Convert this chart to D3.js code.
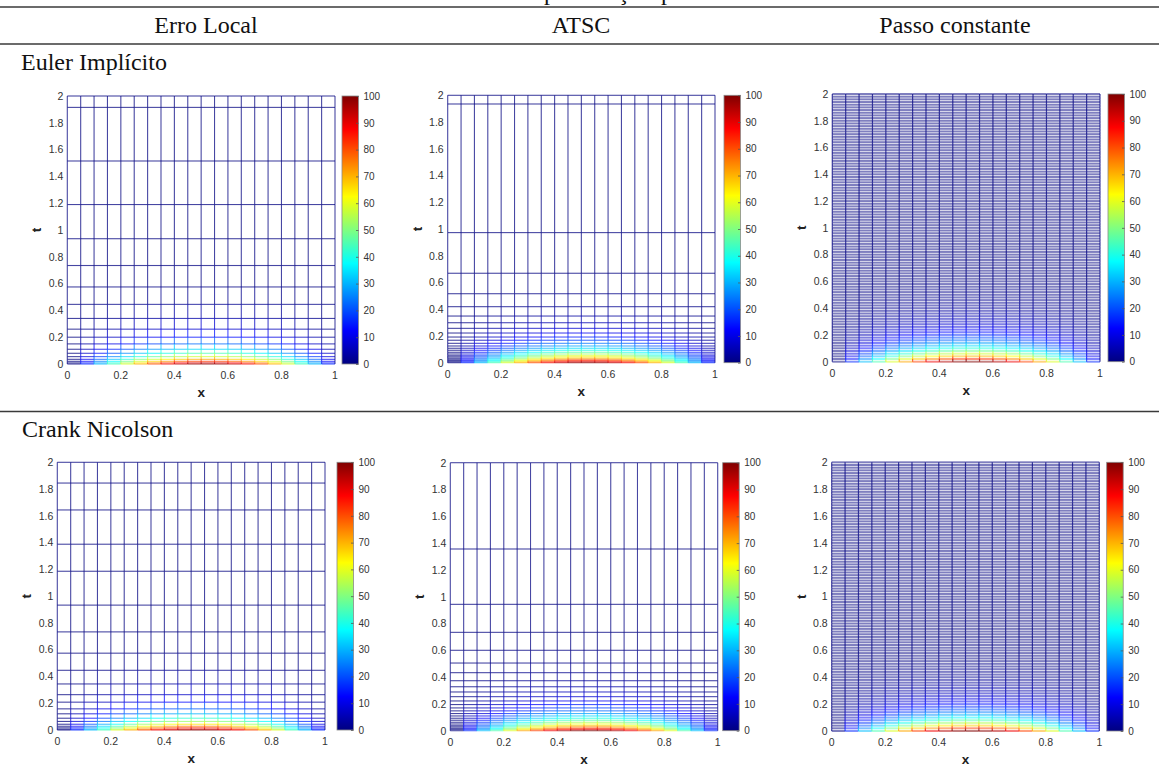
<!DOCTYPE html>
<html><head><meta charset="utf-8">
<script src="https://cdn.jsdelivr.net/npm/d3@7"></script>
<style>html,body{margin:0;padding:0;background:#fff;}svg{display:block;}</style>
</head><body>
<svg id="chart" width="1159" height="772"></svg>
<script>
// ---------------- DATA ----------------
const columnHeaders = ["Erro Local", "ATSC", "Passo constante"];
const rowHeaders = ["Euler Implícito", "Crank Nicolson"];
const captionGlyphs = ["p", "ç", "p"];

const xNodes = [0,0.05,0.1,0.15,0.2,0.25,0.3,0.35,0.4,0.45,0.5,0.55,0.6,0.65,0.7,0.75,0.8,0.85,0.9,0.95,1];
const u0Profile = [0,16,31,45,59,71,81,89,95,99,100,99,95,89,81,71,59,45,31,16,0];

const xTicks = [0,0.2,0.4,0.6,0.8,1];
const tTicks = [0,0.2,0.4,0.6,0.8,1,1.2,1.4,1.6,1.8,2];
const cbTicks = [0,10,20,30,40,50,60,70,80,90,100];

// Euler implícito - erro local
const tEulerLocal = [0,0.008,0.02,0.035,0.055,0.08,0.11,0.15,0.2,0.26,0.34,0.445,0.575,0.735,0.935,1.19,1.515,1.915,2];
const ampEulerLocal = [100,92,82,71,58,45,34,23,14,8,4,1.5,0.4,0.1,0,0,0,0,0];
// Euler implícito - ATSC
const tEulerATSC = [0,0.007,0.015,0.022,0.033,0.043,0.052,0.065,0.078,0.093,0.108,0.125,0.145,0.168,0.192,0.222,0.257,0.299,0.349,0.419,0.516,0.669,0.973,1.935,2];
const ampEulerATSC = [100,93,86,80,72,65,60,53,46,40,34,29,24,19,15,11,8,5,3,1.6,0.6,0.1,0,0,0];
// Crank Nicolson - erro local
const tCNLocal = [0,0.006,0.016,0.028,0.043,0.064,0.088,0.121,0.158,0.208,0.264,0.344,0.446,0.574,0.733,0.933,1.186,1.388,1.644,1.845,2];
const ampCNLocal = [100,94,85,76,65,53,42,30,21,13,7,3.3,1.2,0.3,0.1,0,0,0,0,0,0];
// Crank Nicolson - ATSC
const tCNATSC = [0,0.01,0.018,0.028,0.037,0.05,0.063,0.078,0.093,0.11,0.128,0.148,0.17,0.195,0.222,0.254,0.289,0.328,0.373,0.433,0.505,0.6,0.734,0.943,1.356,2];
const ampCNATSC = [100,91,84,76,69,61,54,46,40,34,28,23,19,15,11,8,5.8,3.9,2.5,1.4,0.7,0.3,0.1,0,0,0];
// passo constante (both methods)
const tConst = [0,0.02,0.04,0.06,0.08,0.10,0.12,0.14,0.16,0.18,0.20,0.22,0.24,0.26,0.28,0.30,0.32,0.34,0.36,0.38,
0.40,0.42,0.44,0.46,0.48,0.50,0.52,0.54,0.56,0.58,0.60,0.62,0.64,0.66,0.68,0.70,0.72,0.74,0.76,0.78,
0.80,0.82,0.84,0.86,0.88,0.90,0.92,0.94,0.96,0.98,1.00,1.02,1.04,1.06,1.08,1.10,1.12,1.14,1.16,1.18,
1.20,1.22,1.24,1.26,1.28,1.30,1.32,1.34,1.36,1.38,1.40,1.42,1.44,1.46,1.48,1.50,1.52,1.54,1.56,1.58,
1.60,1.62,1.64,1.66,1.68,1.70,1.72,1.74,1.76,1.78,1.80,1.82,1.84,1.86,1.88,1.90,1.92,1.94,1.96,1.98,2.00];
const ampConstEuler = [100,83.5,69.8,58.3,48.7,40.7,34,28.4,23.7,19.8,16.5,13.8,11.5,9.6,8,6.7,5.6,4.7,3.9,3.3,
2.7,2.3,1.9,1.6,1.3,1.1,0.9,0.8,0.6,0.5,0.4,0.4,0.3,0.3,0.2,0.2,0.2,0.1,0.1,0.1,
0,0,0,0,0,0,0,0,0,0,0,0,0,0,0,0,0,0,0,0,0,0,0,0,0,0,0,0,0,0,0,0,0,0,0,0,0,0,0,0,
0,0,0,0,0,0,0,0,0,0,0,0,0,0,0,0,0,0,0,0,0];
const ampConstCN = [100,82,67.3,55.2,45.3,37.1,30.5,25,20.5,16.8,13.8,11.3,9.3,7.6,6.2,5.1,4.2,3.5,2.8,2.3,
1.9,1.6,1.3,1.1,0.9,0.7,0.6,0.5,0.4,0.3,0.3,0.2,0.2,0.1,0.1,
0,0,0,0,0,0,0,0,0,0,0,0,0,0,0,0,0,0,0,0,0,0,0,0,0,0,0,0,0,0,0,0,0,0,0,0,0,0,0,0,
0,0,0,0,0,0,0,0,0,0,0,0,0,0,0,0,0,0,0,0,0,0,0,0,0,0];

// ---------------- LAYOUT ----------------
const panels = [
  {t:tEulerLocal, a:ampEulerLocal, L:67.3, R:335,   T:96,    B:364,   cb:342,   dense:false},
  {t:tEulerATSC,  a:ampEulerATSC,  L:447.7,R:715,   T:95.3,  B:362.7, cb:724,   dense:false},
  {t:tConst,      a:ampConstEuler, L:832.3,R:1100,  T:94,    B:361.7, cb:1108,  dense:true},
  {t:tCNLocal,    a:ampCNLocal,    L:57.3, R:325,   T:462.3, B:730,   cb:337,   dense:false},
  {t:tCNATSC,     a:ampCNATSC,     L:450.3,R:717.7, T:462.7, B:730.7, cb:722.7, dense:false},
  {t:tConst,      a:ampConstCN,    L:831.7,R:1099.3,T:462.3, B:731,   cb:1106.7,dense:true}
];
const cbW = 16.5;
const headerX = [206, 581, 955];

const jet = d3.scaleLinear()
  .domain([0,12.5,37.5,62.5,87.5,100])
  .range(["#000080","#0000ff","#00ffff","#ffff00","#ff0000","#800000"])
  .clamp(true);

const svg = d3.select("#chart");
const serif = "'Liberation Serif','Times New Roman',serif";
const sans = "'Liberation Sans',Arial,Helvetica,sans-serif";

const defs = svg.append("defs");
const grad = defs.append("linearGradient").attr("id","jetgrad")
  .attr("x1",0).attr("y1",1).attr("x2",0).attr("y2",0);
d3.range(0,101,2.5).forEach(v=>{
  grad.append("stop").attr("offset", (v/100)).attr("stop-color", jet(v));
});

// table rules
[7, 44, 411.5].forEach(y=>{
  svg.append("line").attr("x1",0).attr("x2",1159).attr("y1",y).attr("y2",y)
    .attr("stroke","#3a3a3a").attr("stroke-width",1.3);
});
// caption above the table, cut by the page edge (only descenders visible)
const capX = [550, 623, 667];
captionGlyphs.forEach((g,i)=>{
  svg.append("text").attr("x",capX[i]).attr("y",-0.5).attr("text-anchor","middle")
    .attr("font-family",serif).attr("font-size",24).attr("fill","#111").text(g);
});
columnHeaders.forEach((h,i)=>{
  svg.append("text").attr("x",headerX[i]).attr("y",33).attr("text-anchor","middle")
    .attr("font-family",serif).attr("font-size",24).attr("fill","#111").text(h);
});
svg.append("text").attr("x",21).attr("y",70).attr("font-family",serif).attr("font-size",24).attr("fill","#111").text(rowHeaders[0]);
svg.append("text").attr("x",22).attr("y",437).attr("font-family",serif).attr("font-size",24).attr("fill","#111").text(rowHeaders[1]);

// ---------------- PANELS ----------------
panels.forEach(p=>{
  const x = d3.scaleLinear().domain([0,1]).range([p.L,p.R]);
  const y = d3.scaleLinear().domain([0,2]).range([p.B,p.T]);
  const g = svg.append("g");

  const hSeg = [], vSeg = [];
  p.t.forEach((tv,j)=>{
    for(let i=0;i<xNodes.length-1;i++){
      hSeg.push({x1:xNodes[i],x2:xNodes[i+1],t1:tv,t2:tv,v:u0Profile[i]*p.a[j]/100});
    }
  });
  for(let i=0;i<xNodes.length;i++){
    for(let j=0;j<p.t.length-1;j++){
      vSeg.push({x1:xNodes[i],x2:xNodes[i],t1:p.t[j],t2:p.t[j+1],v:u0Profile[i]*p.a[j]/100});
    }
  }
  const drawSeg = (data, w, op)=>{
    g.append("g").selectAll("line").data(data).join("line")
      .attr("x1",d=>x(d.x1)).attr("x2",d=>x(d.x2))
      .attr("y1",d=>y(d.t1)).attr("y2",d=>y(d.t2))
      .attr("stroke",d=>jet(d.v)).attr("stroke-width",w)
      .attr("stroke-opacity",op);
  };
  if(p.dense){
    drawSeg(hSeg, 2.0, 0.5);
    drawSeg(vSeg, 1.2, 0.75);
  } else {
    drawSeg(hSeg, 1.1, 0.72);
    drawSeg(vSeg, 1.1, 0.72);
  }

  const ax = svg.append("g").attr("font-family",sans).attr("font-size",10.5).attr("fill","#333");
  ax.selectAll("text.xt").data(xTicks).join("text").attr("class","xt")
    .attr("x",d=>x(d)).attr("y",p.B+15).attr("text-anchor","middle").text(d=>d3.format("~g")(d));
  ax.selectAll("text.yt").data(tTicks).join("text").attr("class","yt")
    .attr("x",p.L-4).attr("y",d=>y(d)+3.8).attr("text-anchor","end").text(d=>d3.format("~g")(d));
  svg.append("text").attr("x",(p.L+p.R)/2).attr("y",p.B+33).attr("text-anchor","middle")
    .attr("font-family",sans).attr("font-weight","bold").attr("font-size",13.5).attr("fill","#222").text("x");
  svg.append("text").attr("transform",`translate(${p.L-26},${(p.T+p.B)/2}) rotate(-90)`)
    .attr("text-anchor","middle").attr("font-family",sans).attr("font-weight","bold")
    .attr("font-size",13.5).attr("fill","#222").text("t");

  const cy = d3.scaleLinear().domain([0,100]).range([p.B,p.T]);
  svg.append("rect").attr("x",p.cb).attr("y",p.T).attr("width",cbW).attr("height",p.B-p.T)
    .attr("fill","url(#jetgrad)").attr("stroke","#8a8a8a").attr("stroke-width",0.8);
  const cbAxis = d3.axisRight(cy).tickValues(cbTicks).tickSize(-2.5).tickPadding(5).tickFormat(d3.format("d"));
  const cbg = svg.append("g").attr("transform",`translate(${p.cb+cbW},0)`).call(cbAxis);
  cbg.select(".domain").remove();
  cbg.selectAll(".tick line").attr("stroke","#555").attr("stroke-width",0.8);
  cbg.selectAll(".tick text").attr("font-family",sans).attr("font-size",10).attr("fill","#333");
});
</script>
</body></html>
